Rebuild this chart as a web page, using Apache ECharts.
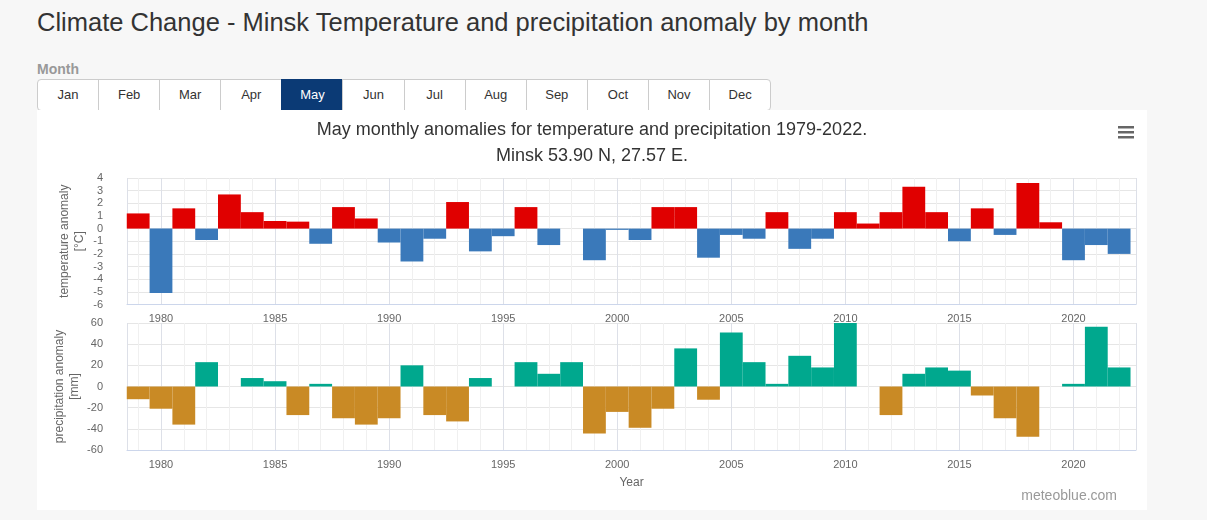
<!DOCTYPE html>
<html>
<head>
<meta charset="utf-8">
<script src="https://cdn.jsdelivr.net/npm/echarts@6/dist/echarts.min.js"></script>
<style>
  body { margin: 0; background: #f7f7f7; font-family: "Liberation Sans", Arial, sans-serif; width: 1207px; height: 520px; overflow: hidden; }
  h1 { position: absolute; left: 37px; top: 8px; margin: 0; font-size: 25.5px; font-weight: normal; color: #333; }
  .lbl { position: absolute; left: 37px; top: 61px; font-size: 14px; font-weight: bold; color: #999; }
  .months { position: absolute; left: 37px; top: 79px; display: flex; }
  .months div { width: 60.1px; height: 30px; line-height: 30px; text-align: center; font-size: 13px; color: #333;
    background: #fff; border: 1px solid #ccc; margin-left: -1px; }
  .months div:first-child { border-radius: 4px 0 0 4px; margin-left: 0; }
  .months div:last-child { border-radius: 0 4px 4px 0; }
  .months div.on { background: #0b3a75; color: #fff; border-color: #0b3a75; }
  #chart { position: absolute; left: 37px; top: 110px; width: 1110px; height: 400px; background: #fff; }
</style>
</head>
<body>
<h1>Climate Change - Minsk Temperature and precipitation anomaly by month</h1>
<div class="lbl">Month</div>
<div class="months" id="months"></div>
<div id="chart"></div>
<script>
// 数据：1979–2022 五月的气温与降水距平
const MONTHS = ['Jan', 'Feb', 'Mar', 'Apr', 'May', 'Jun', 'Jul', 'Aug', 'Sep', 'Oct', 'Nov', 'Dec'];
const YEARS = [
  1979, 1980, 1981, 1982, 1983, 1984, 1985, 1986, 1987, 1988, 1989,
  1990, 1991, 1992, 1993, 1994, 1995, 1996, 1997, 1998, 1999,
  2000, 2001, 2002, 2003, 2004, 2005, 2006, 2007, 2008, 2009,
  2010, 2011, 2012, 2013, 2014, 2015, 2016, 2017, 2018, 2019,
  2020, 2021, 2022,
];
const TEMP = [
  1.2, -5.1, 1.6, -0.9, 2.7, 1.3, 0.6, 0.55, -1.2, 1.7, 0.8,
  -1.1, -2.6, -0.8, 2.1, -1.8, -0.6, 1.7, -1.3, 0, -2.5,
  -0.1, -0.9, 1.7, 1.7, -2.3, -0.5, -0.8, 1.3, -1.6, -0.8,
  1.3, 0.4, 1.3, 3.3, 1.3, -1.0, 1.6, -0.5, 3.6, 0.5,
  -2.5, -1.3, -2.0,
];
const PRECIP = [
  -12, -21, -36, 23, 0, 8, 5, -27, 2.5, -30, -36,
  -30, 20, -27, -33, 8, 0, 23, 12, 23, -44.5,
  -24, -39, -21, 36, -12.5, 51, 23, 2.5, 29, 18,
  61, 0, -27, 12, 18, 15, -8.5, -30, -47.5, 0,
  2.5, 56.5, 18,
];
const TEMP_TICKS = { min: -6, max: 4, step: 1 };
const PRECIP_TICKS = { min: -60, max: 60, step: 20 };

document.getElementById('months').innerHTML = MONTHS
  .map((m) => `<div class="${m === 'May' ? 'on' : ''}">${m}</div>`).join('');

const RED = '#e00000', BLUE = '#3a79ba', TEAL = '#00a88e', OCHRE = '#c98a25';
const LABEL = { color: '#666', fontSize: 11, fontFamily: 'Liberation Sans' };

function xAxis(gridIndex, withName) {
  return {
    type: 'value', gridIndex,
    min: 1978.51, max: 2022.74,
    minInterval: 5, maxInterval: 5,
    axisLine: { show: true, onZero: false, lineStyle: { color: '#ccd6eb' } },
    axisTick: { show: false },
    axisLabel: { ...LABEL, margin: 9, showMinLabel: false, showMaxLabel: false, formatter: (v) => String(v) },
    splitLine: { show: true, lineStyle: { color: '#dde0e8' } },
    minorTick: { show: false, splitNumber: 5 },
    minorSplitLine: { show: true, lineStyle: { color: '#f0f0f0' } },
    name: withName ? 'Year' : '', nameLocation: 'middle', nameGap: 27,
    nameTextStyle: { color: '#666', fontSize: 12, fontFamily: 'Liberation Sans' },
  };
}

function yAxis(gridIndex, ticks, name, gap) {
  return {
    type: 'value', gridIndex,
    min: ticks.min, max: ticks.max, interval: ticks.step,
    axisLine: { show: false }, axisTick: { show: false },
    axisLabel: { ...LABEL, margin: 24 },
    splitLine: { lineStyle: { color: '#e6e6e6' } },
    name, nameLocation: 'middle', nameGap: gap, nameRotate: 90, nameMoveOverlap: false,
    nameTextStyle: { color: '#666', fontSize: 12, lineHeight: 15, fontFamily: 'Liberation Sans' },
  };
}

const chart = echarts.init(document.getElementById('chart'));
chart.setOption({
  animation: false,
  title: {
    text: 'May monthly anomalies for temperature and precipitation 1979-2022.\nMinsk 53.90 N, 27.57 E.',
    left: 'center', top: 2,
    textStyle: { fontSize: 18, fontWeight: 'normal', color: '#333', lineHeight: 26, fontFamily: 'Liberation Sans' },
  },
  grid: [
    { left: 90, right: 11, top: 68, height: 126.5 },
    { left: 90, right: 11, top: 213, height: 127 },
  ],
  xAxis: [xAxis(0, false), xAxis(1, true)],
  yAxis: [
    yAxis(0, TEMP_TICKS, 'temperature anomaly\n[°C]', 40),
    yAxis(1, PRECIP_TICKS, 'precipitation anomaly\n[mm]', 45),
  ],
  series: [
    {
      type: 'bar', xAxisIndex: 0, yAxisIndex: 0, barWidth: '100%',
      data: YEARS.map((y, i) => [y, TEMP[i]]),
      itemStyle: { color: (p) => (p.value[1] >= 0 ? RED : BLUE) },
    },
    {
      type: 'bar', xAxisIndex: 1, yAxisIndex: 1, barWidth: '100%',
      data: YEARS.map((y, i) => [y, PRECIP[i]]),
      itemStyle: { color: (p) => (p.value[1] >= 0 ? TEAL : OCHRE) },
    },
  ],
  graphic: [
    { type: 'rect', left: 1081, top: 16, shape: { width: 16, height: 2.5 }, style: { fill: '#666' } },
    { type: 'rect', left: 1081, top: 21, shape: { width: 16, height: 2.5 }, style: { fill: '#666' } },
    { type: 'rect', left: 1081, top: 26, shape: { width: 16, height: 2.5 }, style: { fill: '#666' } },
    {
      type: 'text', right: 30, top: 379,
      style: { text: 'meteoblue.com', fill: '#999', fontSize: 14, fontFamily: 'Liberation Sans' },
    },
  ],
});
</script>
</body>
</html>
